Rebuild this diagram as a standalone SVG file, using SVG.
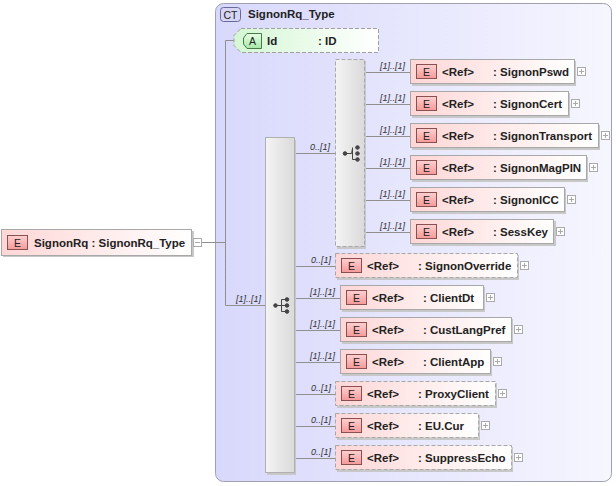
<svg xmlns="http://www.w3.org/2000/svg" width="616" height="486" viewBox="0 0 616 486">
<defs>
<linearGradient id="ctg" x1="0" y1="0" x2="1" y2="0"><stop offset="0" stop-color="#d8d8fc"/><stop offset="1" stop-color="#f6f6ff"/></linearGradient>
<linearGradient id="eg" x1="0" y1="0" x2="1" y2="0"><stop offset="0" stop-color="#ffd6d6"/><stop offset="1" stop-color="#ffffff"/></linearGradient>
<linearGradient id="ebg" x1="0" y1="0" x2="0" y2="1"><stop offset="0" stop-color="#ffd0d0"/><stop offset="1" stop-color="#f49a9a"/></linearGradient>
<linearGradient id="ag" x1="0" y1="0" x2="1" y2="0"><stop offset="0" stop-color="#d4f7d4"/><stop offset="1" stop-color="#ffffff"/></linearGradient>
<linearGradient id="abg" x1="0" y1="0" x2="0" y2="1"><stop offset="0" stop-color="#e6ffe6"/><stop offset="1" stop-color="#a8e6a8"/></linearGradient>
<linearGradient id="sg" x1="0" y1="0" x2="1" y2="0"><stop offset="0" stop-color="#f4f4f4"/><stop offset="1" stop-color="#dadada"/></linearGradient>
</defs>
<style>
.t{font-family:"Liberation Sans",Arial,sans-serif;font-size:11.5px;font-weight:bold;fill:#222}
.c{font-family:"Liberation Sans",Arial,sans-serif;font-size:9px;font-style:italic;fill:#333}
.b{font-family:"Liberation Sans",Arial,sans-serif;font-size:10.5px;fill:#222;text-anchor:middle}
.box{fill:url(#eg);stroke:#a8a8a8;stroke-width:1}
.opt{stroke-dasharray:4,2}
.sh{fill:#c8c8c8}
.eb{fill:url(#ebg);stroke:#8a5050;stroke-width:1}
.pm{fill:#fff;stroke:#aaa;stroke-width:1}
.pl{stroke:#aaa;stroke-width:1;fill:none}
.ln{stroke:#909090;stroke-width:1;fill:none}
.ic{fill:#444;stroke:#444}
</style>

<g id="ct-SignonRq_Type">
<rect x="215.5" y="3.5" width="396" height="478" rx="8" fill="url(#ctg)" stroke="#a0a0b0"/>
<rect x="220.5" y="7.5" width="20" height="14" rx="3" fill="#d6d6f4" stroke="#6a6a9a"/>
<text class="b" x="230.5" y="18.5">CT</text>
<text class="t" x="248" y="18">SignonRq_Type</text>
</g>

<g id="connectors">
<path class="ln" d="M202 242.5H225.5M225.5 40.5V305.5M225.5 40.5H234M225.5 305.5H265"/>
<path class="ln" d="M294 153.5H335"/>
<path class="ln" d="M365 72.5H410M365 104.5H410M365 136.5H410M365 168.5H410M365 200.5H410M365 232.5H410"/>
<path class="ln" d="M294 266.5H335M294 298.5H340M294 330.5H340M294 362.5H340M294 394.5H335M294 426.5H335M294 458.5H335"/>
<text class="c" x="236" y="302">[1]..[1]</text>
<text class="c" x="310" y="150">0..[1]</text>
<text class="c" x="380" y="69">[1]..[1]</text>
<text class="c" x="380" y="101">[1]..[1]</text>
<text class="c" x="380" y="133">[1]..[1]</text>
<text class="c" x="380" y="165">[1]..[1]</text>
<text class="c" x="380" y="197">[1]..[1]</text>
<text class="c" x="380" y="229">[1]..[1]</text>
<text class="c" x="311" y="263">0..[1]</text>
<text class="c" x="310" y="295">[1]..[1]</text>
<text class="c" x="310" y="327">[1]..[1]</text>
<text class="c" x="310" y="359">[1]..[1]</text>
<text class="c" x="311" y="391">0..[1]</text>
<text class="c" x="311" y="423">0..[1]</text>
<text class="c" x="311" y="455">0..[1]</text>
</g>

<g id="el-SignonRq">
<rect class="sh" x="3" y="231" width="191" height="26"/>
<rect class="box" x="1.5" y="229.5" width="190" height="26"/>
<rect class="eb" x="7.5" y="235.5" width="20" height="14"/>
<text class="b" x="17.5" y="246.5">E</text>
<text class="t" x="34" y="246.5">SignonRq : SignonRq_Type</text>
<rect class="pm" x="193.5" y="238.5" width="8" height="8"/>
<path class="pl" d="M195 242.5H200"/>
</g>

<g id="attr-Id">
<polygon points="241,28.5 378.5,28.5 378.5,52.5 241,52.5 234,45.5 234,35.5" fill="url(#ag)" stroke="#a0a0a0" stroke-dasharray="4,2"/>
<polygon points="247,33.5 261.5,33.5 261.5,48.5 247,48.5 243.5,44 243.5,38" fill="url(#abg)" stroke="#4a7a4a"/>
<text class="b" x="252.5" y="45">A</text>
<text class="t" x="267" y="44.5">Id</text>
<text class="t" x="318" y="44.5">: ID</text>
</g>

<g id="seq-main">
<rect class="sh" x="267" y="140" width="29" height="335"/>
<rect x="265.5" y="137.5" width="29" height="335" fill="url(#sg)" stroke="#b0b0b0"/>
<circle class="ic" cx="275.5" cy="305.5" r="1.8"/>
<path d="M275.5 305.5H281.5M281.5 299.5V311.5M281.5 299.5H286M281.5 305.5H286M281.5 311.5H286" stroke="#444" fill="none"/>
<circle class="ic" cx="287" cy="299.5" r="1.8"/>
<circle class="ic" cx="287" cy="305.5" r="1.8"/>
<circle class="ic" cx="287" cy="311.5" r="1.8"/>
</g>

<g id="choice">
<rect class="sh" x="337" y="61" width="29" height="188"/>
<rect x="335.5" y="59.5" width="29" height="187" fill="url(#sg)" stroke="#a8a8a8" stroke-dasharray="4,2"/>
<circle class="ic" cx="345" cy="153.5" r="1.8"/>
<path d="M345 153.5H351.5M351.5 153.5L352.5 148.5M352.5 147.5V159.5M352.5 159.5H356" stroke="#444" fill="none"/>
<circle class="ic" cx="357.5" cy="147.5" r="1.8"/>
<circle class="ic" cx="357.5" cy="153.5" r="1.8"/>
<circle class="ic" cx="357.5" cy="159.5" r="1.8"/>
</g>

<g id="el-SignonPswd">
<rect class="sh" x="412" y="61" width="164" height="25"/>
<rect class="box" x="410.5" y="59.5" width="164" height="24"/>
<rect class="eb" x="416.5" y="64.5" width="20" height="14"/>
<text class="b" x="426.5" y="75.5">E</text>
<text class="t" x="442" y="75.5">&lt;Ref&gt;</text>
<text class="t" x="493" y="75.5">: SignonPswd</text>
<rect class="pm" x="577.5" y="67.5" width="8" height="8"/><path class="pl" d="M579 71.5H584M581.5 69V74"/>
</g>
<g id="el-SignonCert">
<rect class="sh" x="412" y="93" width="158" height="25"/>
<rect class="box" x="410.5" y="91.5" width="158" height="24"/>
<rect class="eb" x="416.5" y="96.5" width="20" height="14"/>
<text class="b" x="426.5" y="107.5">E</text>
<text class="t" x="442" y="107.5">&lt;Ref&gt;</text>
<text class="t" x="493" y="107.5">: SignonCert</text>
<rect class="pm" x="571.5" y="99.5" width="8" height="8"/><path class="pl" d="M573 103.5H578M575.5 101V106"/>
</g>
<g id="el-SignonTransport">
<rect class="sh" x="412" y="125" width="188" height="25"/>
<rect class="box" x="410.5" y="123.5" width="188" height="24"/>
<rect class="eb" x="416.5" y="128.5" width="20" height="14"/>
<text class="b" x="426.5" y="139.5">E</text>
<text class="t" x="442" y="139.5">&lt;Ref&gt;</text>
<text class="t" x="493" y="139.5">: SignonTransport</text>
<rect class="pm" x="601.5" y="131.5" width="8" height="8"/><path class="pl" d="M603 135.5H608M605.5 133V138"/>
</g>
<g id="el-SignonMagPIN">
<rect class="sh" x="412" y="157" width="176" height="25"/>
<rect class="box" x="410.5" y="155.5" width="176" height="24"/>
<rect class="eb" x="416.5" y="160.5" width="20" height="14"/>
<text class="b" x="426.5" y="171.5">E</text>
<text class="t" x="442" y="171.5">&lt;Ref&gt;</text>
<text class="t" x="493" y="171.5">: SignonMagPIN</text>
<rect class="pm" x="589.5" y="163.5" width="8" height="8"/><path class="pl" d="M591 167.5H596M593.5 165V170"/>
</g>
<g id="el-SignonICC">
<rect class="sh" x="412" y="189" width="154" height="25"/>
<rect class="box" x="410.5" y="187.5" width="154" height="24"/>
<rect class="eb" x="416.5" y="192.5" width="20" height="14"/>
<text class="b" x="426.5" y="203.5">E</text>
<text class="t" x="442" y="203.5">&lt;Ref&gt;</text>
<text class="t" x="493" y="203.5">: SignonICC</text>
<rect class="pm" x="567.5" y="195.5" width="8" height="8"/><path class="pl" d="M569 199.5H574M571.5 197V202"/>
</g>
<g id="el-SessKey">
<rect class="sh" x="412" y="221" width="144" height="25"/>
<rect class="box" x="410.5" y="219.5" width="143" height="24"/>
<rect class="eb" x="416.5" y="224.5" width="20" height="14"/>
<text class="b" x="426.5" y="235.5">E</text>
<text class="t" x="442" y="235.5">&lt;Ref&gt;</text>
<text class="t" x="493" y="235.5">: SessKey</text>
<rect class="pm" x="556.5" y="227.5" width="8" height="8"/><path class="pl" d="M558 231.5H563M560.5 229V234"/>
</g>

<g id="el-SignonOverride">
<rect class="sh" x="337" y="255" width="182" height="25"/>
<rect class="box opt" x="335.5" y="253.5" width="182" height="24"/>
<rect class="eb" x="341.5" y="258.5" width="20" height="14"/>
<text class="b" x="351.5" y="269.5">E</text>
<text class="t" x="367" y="269.5">&lt;Ref&gt;</text>
<text class="t" x="418" y="269.5">: SignonOverride</text>
<rect class="pm" x="520.5" y="261.5" width="8" height="8"/><path class="pl" d="M522 265.5H527M524.5 263V268"/>
</g>
<g id="el-ClientDt">
<rect class="sh" x="342" y="287" width="143" height="25"/>
<rect class="box" x="340.5" y="285.5" width="143" height="24"/>
<rect class="eb" x="346.5" y="290.5" width="20" height="14"/>
<text class="b" x="356.5" y="301.5">E</text>
<text class="t" x="372" y="301.5">&lt;Ref&gt;</text>
<text class="t" x="423" y="301.5">: ClientDt</text>
<rect class="pm" x="486.5" y="293.5" width="8" height="8"/><path class="pl" d="M488 297.5H493M490.5 295V300"/>
</g>
<g id="el-CustLangPref">
<rect class="sh" x="342" y="319" width="171" height="25"/>
<rect class="box" x="340.5" y="317.5" width="171" height="24"/>
<rect class="eb" x="346.5" y="322.5" width="20" height="14"/>
<text class="b" x="356.5" y="333.5">E</text>
<text class="t" x="372" y="333.5">&lt;Ref&gt;</text>
<text class="t" x="423" y="333.5">: CustLangPref</text>
<rect class="pm" x="514.5" y="325.5" width="8" height="8"/><path class="pl" d="M516 329.5H521M518.5 327V332"/>
</g>
<g id="el-ClientApp">
<rect class="sh" x="342" y="351" width="150" height="25"/>
<rect class="box" x="340.5" y="349.5" width="150" height="24"/>
<rect class="eb" x="346.5" y="354.5" width="20" height="14"/>
<text class="b" x="356.5" y="365.5">E</text>
<text class="t" x="372" y="365.5">&lt;Ref&gt;</text>
<text class="t" x="423" y="365.5">: ClientApp</text>
<rect class="pm" x="493.5" y="357.5" width="8" height="8"/><path class="pl" d="M495 361.5H500M497.5 359V364"/>
</g>
<g id="el-ProxyClient">
<rect class="sh" x="337" y="383" width="160" height="25"/>
<rect class="box opt" x="335.5" y="381.5" width="160" height="24"/>
<rect class="eb" x="341.5" y="386.5" width="20" height="14"/>
<text class="b" x="351.5" y="397.5">E</text>
<text class="t" x="367" y="397.5">&lt;Ref&gt;</text>
<text class="t" x="418" y="397.5">: ProxyClient</text>
<rect class="pm" x="498.5" y="389.5" width="8" height="8"/><path class="pl" d="M500 393.5H505M502.5 391V396"/>
</g>
<g id="el-EU.Cur">
<rect class="sh" x="337" y="415" width="143" height="25"/>
<rect class="box opt" x="335.5" y="413.5" width="143" height="24"/>
<rect class="eb" x="341.5" y="418.5" width="20" height="14"/>
<text class="b" x="351.5" y="429.5">E</text>
<text class="t" x="367" y="429.5">&lt;Ref&gt;</text>
<text class="t" x="418" y="429.5">: EU.Cur</text>
<rect class="pm" x="481.5" y="421.5" width="8" height="8"/><path class="pl" d="M483 425.5H488M485.5 423V428"/>
</g>
<g id="el-SuppressEcho">
<rect class="sh" x="337" y="447" width="176" height="25"/>
<rect class="box opt" x="335.5" y="445.5" width="176" height="24"/>
<rect class="eb" x="341.5" y="450.5" width="20" height="14"/>
<text class="b" x="351.5" y="461.5">E</text>
<text class="t" x="367" y="461.5">&lt;Ref&gt;</text>
<text class="t" x="418" y="461.5">: SuppressEcho</text>
<rect class="pm" x="514.5" y="453.5" width="8" height="8"/><path class="pl" d="M516 457.5H521M518.5 455V460"/>
</g>
</svg>
